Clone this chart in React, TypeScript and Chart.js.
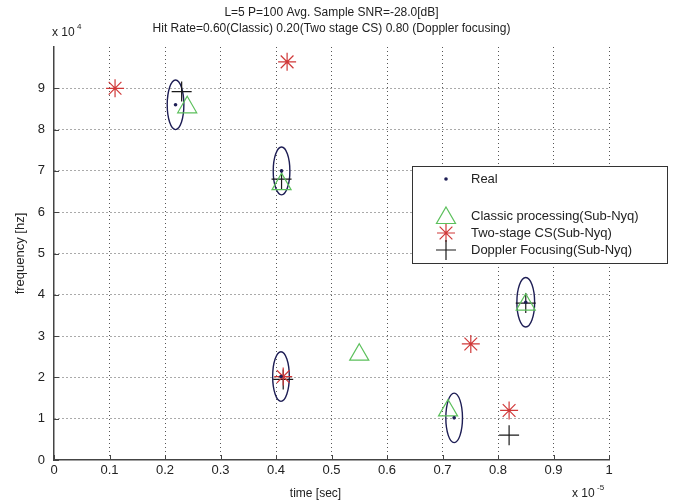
import React, { useEffect, useRef } from 'react';
import { Chart, registerables } from 'chart.js';

Chart.register(...registerables);

// ---- text ----
const TITLE_LINE1 = 'L=5 P=100 Avg. Sample SNR=-28.0[dB]';
const TITLE_LINE2 = 'Hit Rate=0.60(Classic) 0.20(Two stage CS) 0.80 (Doppler focusing)';
const X_LABEL = 'time [sec]';
const Y_LABEL = 'frequency [hz]';
const X_EXP = '-5';
const Y_EXP = '4';
const LEGEND_LABELS = ['Real', '', 'Classic processing(Sub-Nyq)', 'Two-stage CS(Sub-Nyq)', 'Doppler Focusing(Sub-Nyq)'];

// ---- axes ----
const xTicks = [0, 0.1, 0.2, 0.3, 0.4, 0.5, 0.6, 0.7, 0.8, 0.9, 1];
const yTicks = [0, 1, 2, 3, 4, 5, 6, 7, 8, 9];
const X_MIN = 0;
const X_MAX = 1;
const Y_MIN = 0;
const Y_MAX = 10;

// ---- data (x in 1e-5 s, y in 1e4 Hz) ----
const realX = [0.219, 0.41, 0.409, 0.721, 0.85];
const realY = [8.6, 7.0, 2.02, 1.02, 3.82];
const ellipseRx = [0.015, 0.015, 0.015, 0.015, 0.016];
const ellipseRy = [0.6, 0.58, 0.6, 0.6, 0.6];

const classicX = [0.24, 0.41, 0.55, 0.71, 0.85];
const classicY = [8.54, 6.68, 2.55, 1.2, 3.76];

const twoStageX = [0.11, 0.42, 0.413, 0.751, 0.82];
const twoStageY = [9.0, 9.64, 2.02, 2.81, 1.2];

const dopplerX = [0.23, 0.41, 0.413, 0.85, 0.82];
const dopplerY = [8.92, 6.8, 1.95, 3.8, 0.6];

const FONT = '"Liberation Sans", Arial, Helvetica, sans-serif';
const TEXT_COLOR = '#222';
const GREEN = '#5cc05c';
const RED = '#d03838';
const BLACK = '#1a1a1a';
const NAVY = '#1e1e55';

const pts = (xs: number[], ys: number[]) => xs.map((x, i) => ({ x, y: ys[i] }));

function drawMarker(ctx: CanvasRenderingContext2D, kind: string, x: number, y: number) {
  ctx.save();
  ctx.lineWidth = 1.2;
  if (kind === 'dot') {
    ctx.fillStyle = NAVY;
    ctx.beginPath();
    ctx.arc(x, y, 1.8, 0, Math.PI * 2);
    ctx.fill();
  } else if (kind === 'triangle') {
    const r = 11;
    ctx.strokeStyle = GREEN;
    ctx.beginPath();
    for (let k = 0; k < 3; k++) {
      const a = (k * 2 * Math.PI) / 3;
      const px = x + Math.sin(a) * r;
      const py = y - Math.cos(a) * r;
      if (k === 0) ctx.moveTo(px, py);
      else ctx.lineTo(px, py);
    }
    ctx.closePath();
    ctx.stroke();
  } else if (kind === 'star') {
    const r = 9;
    ctx.strokeStyle = RED;
    ctx.beginPath();
    for (let k = 0; k < 4; k++) {
      const a = (k * Math.PI) / 4;
      ctx.moveTo(x - Math.cos(a) * r, y - Math.sin(a) * r);
      ctx.lineTo(x + Math.cos(a) * r, y + Math.sin(a) * r);
    }
    ctx.stroke();
  } else if (kind === 'cross') {
    const r = 10;
    ctx.strokeStyle = BLACK;
    ctx.beginPath();
    ctx.moveTo(x - r, y);
    ctx.lineTo(x + r, y);
    ctx.moveTo(x, y - r);
    ctx.lineTo(x, y + r);
    ctx.stroke();
  }
  ctx.restore();
}

const overlayPlugin = {
  id: 'overlay',
  beforeDatasetsDraw(chart: any) {
    const { ctx, scales } = chart;
    const xs = scales.x;
    const ys = scales.y;
    // inward tick marks
    ctx.save();
    ctx.strokeStyle = '#444';
    ctx.lineWidth = 1;
    ctx.beginPath();
    xTicks.forEach((v) => {
      const px = Math.round(xs.getPixelForValue(v)) + 0.5;
      ctx.moveTo(px, ys.bottom);
      ctx.lineTo(px, ys.bottom - 5);
    });
    yTicks.forEach((v) => {
      const py = Math.round(ys.getPixelForValue(v)) + 0.5;
      ctx.moveTo(xs.left, py);
      ctx.lineTo(xs.left + 5, py);
    });
    ctx.stroke();
    ctx.restore();
    // uncertainty ellipses around real targets
    ctx.save();
    ctx.strokeStyle = NAVY;
    ctx.lineWidth = 1.4;
    realX.forEach((cx, i) => {
      const px = xs.getPixelForValue(cx);
      const py = ys.getPixelForValue(realY[i]);
      const rx = Math.abs(xs.getPixelForValue(cx + ellipseRx[i]) - px);
      const ry = Math.abs(ys.getPixelForValue(realY[i] + ellipseRy[i]) - py);
      ctx.beginPath();
      ctx.ellipse(px, py, rx, ry, 0, 0, Math.PI * 2);
      ctx.stroke();
    });
    ctx.restore();
  },
  afterDraw(chart: any) {
    const { ctx, chartArea } = chart;
    const cx = (chartArea.left + chartArea.right) / 2;
    ctx.save();
    ctx.fillStyle = TEXT_COLOR;
    ctx.textBaseline = 'middle';
    // title
    ctx.font = `12px ${FONT}`;
    ctx.textAlign = 'center';
    ctx.fillText(TITLE_LINE1, cx, 13);
    ctx.fillText(TITLE_LINE2, cx, 29);
    // axis titles
    ctx.font = `12px ${FONT}`;
    ctx.fillText(X_LABEL, cx - 16, 494);
    ctx.save();
    ctx.font = `13px ${FONT}`;
    ctx.translate(20, (chartArea.top + chartArea.bottom) / 2);
    ctx.rotate(-Math.PI / 2);
    ctx.fillText(Y_LABEL, 0, 0);
    ctx.restore();
    // exponents
    ctx.textAlign = 'left';
    ctx.font = `12px ${FONT}`;
    ctx.fillText('x 10', 52, 33);
    ctx.font = `8px ${FONT}`;
    ctx.fillText(Y_EXP, 77, 27);
    ctx.font = `12px ${FONT}`;
    ctx.fillText('x 10', 572, 494);
    ctx.font = `8px ${FONT}`;
    ctx.fillText(X_EXP, 597, 488);
    // legend
    const lx = 412, ly = 166, lw = 255, lh = 97;
    ctx.fillStyle = '#fff';
    ctx.fillRect(lx, ly, lw, lh);
    ctx.strokeStyle = '#333';
    ctx.lineWidth = 1;
    ctx.strokeRect(lx + 0.5, ly + 0.5, lw, lh);
    const rowsY = [179, 197, 216, 233, 250];
    const kinds = ['dot', '', 'triangle', 'star', 'cross'];
    ctx.font = `13px ${FONT}`;
    ctx.fillStyle = TEXT_COLOR;
    LEGEND_LABELS.forEach((t, i) => {
      if (kinds[i]) drawMarker(ctx, kinds[i], 446, rowsY[i] + (kinds[i] === 'triangle' ? 2 : 0));
      if (t) ctx.fillText(t, 471, rowsY[i]);
    });
    ctx.restore();
  },
};

export default function App() {
  const ref = useRef<HTMLCanvasElement>(null);
  useEffect(() => {
    document.body.style.margin = '0';
    const canvas = ref.current;
    if (!canvas) return;
    const chart = new Chart(canvas, {
      type: 'scatter',
      data: {
        datasets: [
          {
            label: 'Real',
            data: pts(realX, realY),
            pointStyle: 'circle',
            pointRadius: 1.8,
            backgroundColor: NAVY,
            borderColor: NAVY,
            borderWidth: 0,
          },
          {
            label: 'Classic processing(Sub-Nyq)',
            data: pts(classicX, classicY),
            pointStyle: 'triangle',
            pointRadius: 11,
            backgroundColor: 'rgba(0,0,0,0)',
            borderColor: GREEN,
            borderWidth: 1.2,
          },
          {
            label: 'Two-stage CS(Sub-Nyq)',
            data: pts(twoStageX, twoStageY),
            pointStyle: 'star',
            pointRadius: 9,
            backgroundColor: 'rgba(0,0,0,0)',
            borderColor: RED,
            borderWidth: 1.2,
          },
          {
            label: 'Doppler Focusing(Sub-Nyq)',
            data: pts(dopplerX, dopplerY),
            pointStyle: 'cross',
            pointRadius: 10,
            backgroundColor: 'rgba(0,0,0,0)',
            borderColor: BLACK,
            borderWidth: 1.2,
          },
        ],
      },
      options: {
        animation: false,
        responsive: false,
        devicePixelRatio: 1,
        layout: { padding: { top: 47, right: 67, left: 0, bottom: 0 } },
        plugins: {
          legend: { display: false },
          title: { display: false },
          tooltip: { enabled: false },
        },
        scales: {
          x: {
            type: 'linear',
            min: X_MIN,
            max: X_MAX,
            afterFit: (s: any) => { s.height = 44; },
            afterBuildTicks: (s: any) => { s.ticks = xTicks.map((v) => ({ value: v })); },
            ticks: {
              padding: 3,
              color: TEXT_COLOR,
              font: { family: FONT, size: 13 },
              maxRotation: 0,
              callback: (v: any) => String(Number(Number(v).toFixed(1))),
            },
            grid: {
              drawTicks: false,
              color: (c: any) => (c.tick && c.tick.value === X_MIN ? 'rgba(0,0,0,0)' : '#555'),
              lineWidth: 1,
            },
            border: { display: true, color: '#444', width: 1.5, dash: [1, 3] },
          },
          y: {
            type: 'linear',
            min: Y_MIN,
            max: Y_MAX,
            afterFit: (s: any) => { s.width = 54; },
            afterBuildTicks: (s: any) => { s.ticks = yTicks.map((v) => ({ value: v })); },
            ticks: {
              padding: 9,
              color: TEXT_COLOR,
              font: { family: FONT, size: 13 },
              callback: (v: any) => String(v),
            },
            grid: {
              drawTicks: false,
              color: (c: any) => (c.tick && c.tick.value === Y_MIN ? 'rgba(0,0,0,0)' : '#555'),
              lineWidth: 1,
            },
            border: { display: true, color: '#444', width: 1.5, dash: [1, 3] },
          },
        },
      },
      plugins: [overlayPlugin],
    });
    return () => chart.destroy();
  }, []);
  return (
    <div style={{ width: 676, height: 504, background: '#fff' }}>
      <canvas ref={ref} width={676} height={504} style={{ width: 676, height: 504, display: 'block' }} />
    </div>
  );
}
